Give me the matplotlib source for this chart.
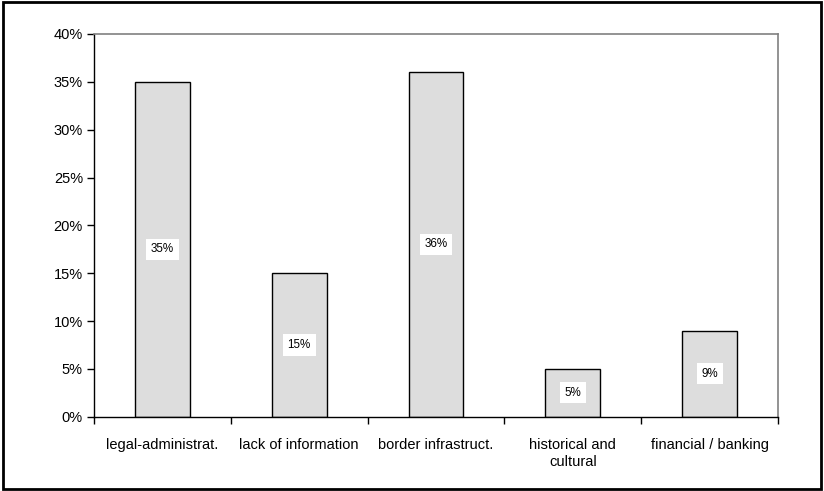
import matplotlib.pyplot as plt
from matplotlib.patches import Rectangle

plt.rcParams['font.family'] = ['Liberation Sans', 'DejaVu Sans']

categories = ['legal-administrat.', 'lack of information', 'border infrastruct.',
              'historical and\ncultural', 'financial / banking']
shares = [0.35, 0.15, 0.36, 0.05, 0.09]
share_labels = ['35%', '15%', '36%', '5%', '9%']
y_ticks = [0.0, 0.05, 0.10, 0.15, 0.20, 0.25, 0.30, 0.35, 0.40]

fig = plt.figure(figsize=(8.24, 4.91), dpi=100)
ax = fig.add_axes([0.1141, 0.1513, 0.8301, 0.7795])

x = list(range(len(categories)))
bars = ax.bar(x, shares, width=0.4, color='#dddddd', edgecolor='black', linewidth=1.0)

for xi, v, lab in zip(x, shares, share_labels):
    ax.text(xi, v / 2, lab, ha='center', va='center', fontsize=8.4,
            bbox=dict(facecolor='white', edgecolor='none', boxstyle='square,pad=0.4'))

ax.set_xlim(-0.5, len(categories) - 0.5)
ax.set_ylim(0, 0.4)
ax.set_yticks(y_ticks)
ax.set_yticklabels(['%d%%' % round(t * 100) for t in y_ticks], fontsize=10.5)

# category labels centred, tick marks on the boundaries between categories
ax.set_xticks(x)
ax.set_xticklabels(categories, fontsize=10.5, linespacing=1.3)
ax.tick_params(axis='x', which='major', length=0, pad=15)
ax.set_xticks([i - 0.5 for i in range(len(categories) + 1)], minor=True)
ax.tick_params(axis='x', which='minor', length=5, width=1, direction='out')
ax.tick_params(axis='y', length=5, width=1, direction='out', pad=3)

for s in ['top', 'right']:
    ax.spines[s].set_color('#808080')
    ax.spines[s].set_linewidth(1.2)
for s in ['left', 'bottom']:
    ax.spines[s].set_color('black')
    ax.spines[s].set_linewidth(1.0)

# outer frame round the whole chart
fig.patches.append(Rectangle((0.004, 0.004), 0.992, 0.992, transform=fig.transFigure,
                             fill=False, edgecolor='black', linewidth=2.0))

fig.savefig('out.png', dpi=100)
